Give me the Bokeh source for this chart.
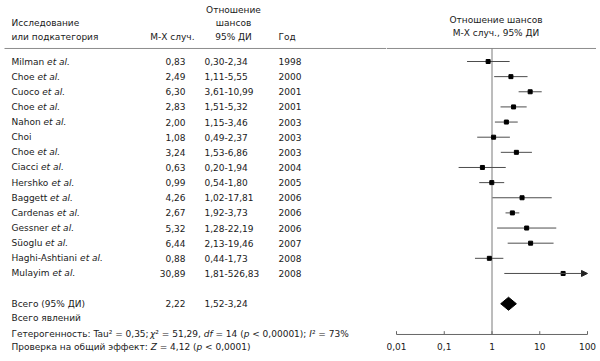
import glob
import struct

from bokeh.core.properties import value
from bokeh.embed import file_html
from bokeh.layouts import row
from bokeh.models import Arrow, NormalHead, Range1d
from bokeh.plotting import figure
from bokeh.resources import INLINE

# ---------------- data ----------------
studies = ["Milman", "Choe", "Cuoco", "Choe", "Nahon", "Choi", "Choe", "Ciacci",
           "Hershko", "Baggett", "Cardenas", "Gessner", "Süoglu", "Haghi-Ashtiani", "Mulayim"]
et_al = [True, True, True, True, True, False, True, True,
         True, True, True, True, True, True, True]
or_vals = [0.83, 2.49, 6.30, 2.83, 2.00, 1.08, 3.24, 0.63, 0.99, 4.26, 2.67, 5.32, 6.44, 0.88, 30.89]
ci_lo = [0.30, 1.11, 3.61, 1.51, 1.15, 0.49, 1.53, 0.20, 0.54, 1.02, 1.92, 1.28, 2.13, 0.44, 1.81]
ci_hi = [2.34, 5.55, 10.99, 5.32, 3.46, 2.37, 6.86, 1.94, 1.80, 17.81, 3.73, 22.19, 19.46, 1.73, 526.83]
years = [1998, 2000, 2001, 2001, 2003, 2003, 2003, 2004, 2005, 2006, 2006, 2006, 2007, 2008, 2008]
total_or, total_lo, total_hi = 2.22, 1.52, 3.24
axis_ticks = [0.01, 0.1, 1, 10, 100]
tick_labels = ["0,01", "0,1", "1", "10", "100"]
het_pieces = [("Гетерогенность: Tau² = 0,35;", "normal"), ("χ", "italic"), ("² = 51,29, ", "normal"),
              ("df", "italic"), (" = 14 (", "normal"), ("p", "italic"), (" < 0,00001); ", "normal"),
              ("I", "italic"), ("² = 73%", "normal")]
test_pieces = [("Проверка на общий эффект: ", "normal"), ("Z", "italic"), (" = 4,12 (", "normal"),
               ("p", "italic"), (" < 0,0001)", "normal")]

# ---------------- font metrics ----------------
FONT = "DejaVu Sans"
FS = 9


def load_widths():
    paths = []
    for pat in ["/usr/share/fonts/**/DejaVuSans.ttf", "/usr/local/share/fonts/**/DejaVuSans.ttf",
                "/usr/**/DejaVuSans.ttf"]:
        paths += glob.glob(pat, recursive=True)
        if paths:
            break
    if not paths:
        return None
    data = open(paths[0], "rb").read()
    n_tab = struct.unpack(">H", data[4:6])[0]
    tabs = {}
    for i in range(n_tab):
        tag, _, off, ln = struct.unpack(">4sIII", data[12 + 16 * i:28 + 16 * i])
        tabs[tag.decode("latin1")] = off
    upem = struct.unpack(">H", data[tabs["head"] + 18:tabs["head"] + 20])[0]
    nhm = struct.unpack(">H", data[tabs["hhea"] + 34:tabs["hhea"] + 36])[0]
    hm = tabs["hmtx"]
    adv = [struct.unpack(">H", data[hm + 4 * i:hm + 4 * i + 2])[0] for i in range(nhm)]
    cm = tabs["cmap"]
    nsub = struct.unpack(">H", data[cm + 2:cm + 4])[0]
    sub = None
    for i in range(nsub):
        pid, eid, off = struct.unpack(">HHI", data[cm + 4 + 8 * i:cm + 12 + 8 * i])
        fmt = struct.unpack(">H", data[cm + off:cm + off + 2])[0]
        if pid == 3 and eid == 1 and fmt == 4:
            sub = cm + off
    if sub is None:
        return None
    sx2 = struct.unpack(">H", data[sub + 6:sub + 8])[0]
    ns = sx2 // 2
    ends = struct.unpack(">%dH" % ns, data[sub + 14:sub + 14 + sx2])
    starts = struct.unpack(">%dH" % ns, data[sub + 16 + sx2:sub + 16 + 2 * sx2])
    deltas = struct.unpack(">%dh" % ns, data[sub + 16 + 2 * sx2:sub + 16 + 3 * sx2])
    rpos = sub + 16 + 3 * sx2
    roffs = struct.unpack(">%dH" % ns, data[rpos:rpos + sx2])

    def glyph(c):
        for i in range(ns):
            if ends[i] >= c:
                if starts[i] > c:
                    return 0
                if roffs[i] == 0:
                    return (c + deltas[i]) & 0xFFFF
                addr = rpos + 2 * i + roffs[i] + 2 * (c - starts[i])
                g = struct.unpack(">H", data[addr:addr + 2])[0]
                return (g + deltas[i]) & 0xFFFF if g else 0
        return 0

    def w(ch):
        g = glyph(ord(ch))
        return adv[min(g, nhm - 1)] / upem

    return w


_w = load_widths()


def text_width(s):
    if _w is None:
        return 0.6 * FS * len(s)
    return sum(_w(c) for c in s) * FS


# ---------------- layout ----------------
H = 357
WL, WR = 386, 210
ROW = 15.14
Y0 = 61.0
TXT = "#1a1a1a"
LINE = "#4d4d4d"

HL = -0.86          # header rule
AXR = 18.03         # axis row
TOT = 16.0


def yrange():
    return Range1d(start=(H - Y0) / ROW, end=-Y0 / ROW)


def base(**kw):
    p = figure(width=kw.pop("width"), height=H, output_backend="svg", toolbar_location=None,
               min_border=0, x_axis_location=None, y_axis_location=None, y_range=yrange(), **kw)
    p.outline_line_color = None
    p.grid.visible = False
    p.background_fill_color = "white"
    p.border_fill_color = "white"
    return p


def txt(p, xs, ys, texts, align="left", style="normal", x_offset=0):
    p.text(x=xs, y=ys, text=texts, text_font=value(FONT), text_font_size=f"{FS}px",
           text_align=align, text_baseline="middle", text_font_style=style,
           text_color=TXT, x_offset=x_offset)


# ---- left table ----
pL = base(width=WL, x_range=Range1d(0, WL))
X_NAME, X_OR, X_CI, X_YEAR, X_HDR_MID = 11, 185, 204, 278, 233
L1, L2, L3 = -3.42, -2.55, -1.65

txt(pL, [X_NAME, X_NAME], [L2, L3], ["Исследование", "или подкатегория"])
txt(pL, [194], [L3], ["М-Х случ."], align="right")
txt(pL, [X_HDR_MID] * 3, [L1, L2, L3], ["Отношение", "шансов", "95% ДИ"], align="center")
txt(pL, [X_YEAR], [L3], ["Год"])
pL.segment(x0=[4], x1=[WL], y0=[HL], y1=[HL], line_color="#8c8c8c", line_width=1)

idx = list(range(len(studies)))
txt(pL, [X_NAME] * len(studies), idx, studies)
ea_x = [X_NAME + text_width(s + " ") for s, e in zip(studies, et_al) if e]
ea_y = [i for i, e in zip(idx, et_al) if e]
txt(pL, ea_x, ea_y, ["et al."] * len(ea_y), style="italic")
fmt = lambda v: f"{v:.2f}".replace(".", ",")
txt(pL, [X_OR] * len(idx), idx, [fmt(v) for v in or_vals], align="right")
txt(pL, [X_CI] * len(idx), idx, [f"{fmt(a)}-{fmt(b)}" for a, b in zip(ci_lo, ci_hi)])
txt(pL, [X_YEAR] * len(idx), idx, [str(y) for y in years])

txt(pL, [X_NAME], [TOT], ["Всего (95% ДИ)"])
txt(pL, [X_OR], [TOT], [fmt(total_or)], align="right")
txt(pL, [X_CI], [TOT], [f"{fmt(total_lo)}-{fmt(total_hi)}"])
txt(pL, [X_NAME], [16.97], ["Всего явлений"])


def pieces_line(p, pieces, x0, y):
    x = x0
    for s, st in pieces:
        stripped = s.lstrip(" ")
        lead = text_width(s[:len(s) - len(stripped)])
        txt(p, [x + lead], [y], [stripped.rstrip(" ")], style=st)
        x += text_width(s)


pieces_line(pL, het_pieces, X_NAME, 17.97)
pieces_line(pL, test_pieces, X_NAME, 18.89)

# ---- right forest plot ----
D = 47.75
PADL = 10
x_start = 10 ** (-2 - PADL / D)
x_end = 10 ** (2 + (WR - PADL - 4 * D) / D)
pR = base(width=WR, x_axis_type="log", x_range=Range1d(x_start, x_end))

pR.segment(x0=[x_start], x1=[x_end], y0=[HL], y1=[HL], line_color="#8c8c8c", line_width=1)
txt(pR, [1, 1], [-2.71, -1.85], ["Отношение шансов", "М-Х случ., 95% ДИ"], align="center", x_offset=4)
pR.segment(x0=[1], x1=[1], y0=[HL], y1=[AXR], line_color="#7a7a7a", line_width=1)

xmax = axis_ticks[-1]
seg_i = [i for i in idx if ci_hi[i] <= xmax]
pR.segment(x0=[ci_lo[i] for i in seg_i], x1=[ci_hi[i] for i in seg_i], y0=seg_i, y1=seg_i,
           line_color=LINE, line_width=1)
for i in idx:
    if ci_hi[i] > xmax:
        pR.add_layout(Arrow(end=NormalHead(size=6, fill_color="#222222", line_color="#222222"),
                            x_start=ci_lo[i], y_start=i, x_end=xmax, y_end=i,
                            line_color=LINE, line_width=1))
pR.scatter(x=or_vals, y=idx, marker="square", size=4, fill_color="black", line_color="black")

dh = 0.43
pR.patch(x=[total_lo, total_or, total_hi, total_or], y=[TOT, TOT - dh, TOT, TOT + dh],
         fill_color="black", line_color="black")

pR.segment(x0=[axis_ticks[0]], x1=[axis_ticks[-1]], y0=[AXR], y1=[AXR], line_color="#666666", line_width=1)
pR.segment(x0=axis_ticks, x1=axis_ticks, y0=[AXR] * 5, y1=[AXR - 0.22] * 5, line_color="#666666", line_width=1)
txt(pR, axis_ticks, [18.82] * 5, tick_labels, align="center")

layout = row(pL, pR)
open("out.html", "w").write(file_html(layout, INLINE))
